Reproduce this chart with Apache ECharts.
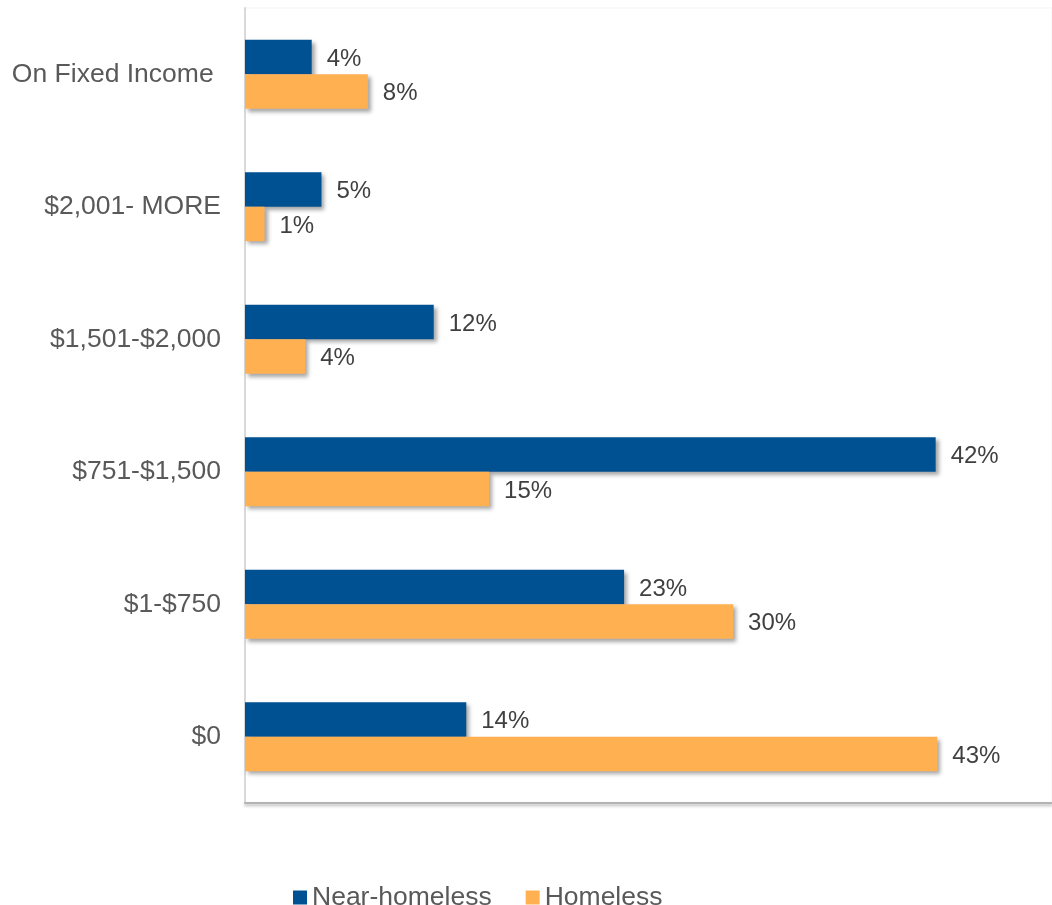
<!DOCTYPE html>
<html lang="en">
<head>
    <meta charset="UTF-8">
    <title>Income</title>
    <style>
        html, body { margin: 0; padding: 0; background: #fff; }
    </style>
</head>
<body>
<div id="main" style="width: 1052px; height: 905px;"></div>

<script src="https://cdn.jsdelivr.net/npm/echarts@6/dist/echarts.min.js"></script>
<script type="text/javascript">
    // categories, bottom to top (category axis starts at the bottom)
    var categories = ['$0', '$1-$750', '$751-$1,500', '$1,501-$2,000', '$2,001- MORE', 'On Fixed Income '];
    var seriesNames = ['Near-homeless', 'Homeless'];
    // percentages; labels show them rounded
    var nearHomeless = [13.6, 23.3, 42.45, 11.6, 4.7, 4.1];
    var homeless = [42.55, 30.0, 15.0, 3.7, 1.2, 7.55];

    var barShadow = {
        shadowBlur: 4,
        shadowOffsetX: 3,
        shadowOffsetY: 3,
        shadowColor: 'rgba(0,0,0,0.35)'
    };

    function pctLabel(p) {
        return Math.round(p.value) + '%';
    }

    var myChart = echarts.init(document.getElementById('main'));
    var option = {
        animation: false,
        textStyle: { fontFamily: '"Liberation Sans", Arial, sans-serif' },
        grid: {
            left: 245,
            top: 8,
            right: 0,
            height: 795,
            show: true,
            borderColor: '#f3f3f3',
            borderWidth: 1
        },
        legend: {
            data: seriesNames,
            left: 288,
            top: 879,
            icon: 'rect',
            itemWidth: 14,
            itemHeight: 14,
            itemGap: 34,
            textStyle: { fontSize: 26.5, color: '#595959' }
        },
        xAxis: {
            type: 'value',
            min: 0,
            max: 49.6,   // plot area runs off the right edge a little
            axisLabel: { show: false },
            axisTick: { show: false },
            splitLine: { show: false },
            axisLine: {
                show: true,
                lineStyle: {
                    color: '#b3b3b3',
                    width: 2,
                    shadowBlur: 3,
                    shadowOffsetY: 2,
                    shadowColor: 'rgba(0,0,0,0.3)'
                }
            }
        },
        yAxis: {
            type: 'category',
            data: categories,
            axisTick: { show: false },
            axisLine: { show: true, lineStyle: { color: '#d9d9d9', width: 2 } },
            axisLabel: { fontSize: 26.5, color: '#595959', margin: 24, padding: [5, 0, 0, 0] }
        },
        series: [
            {
                name: seriesNames[0],
                type: 'bar',
                data: nearHomeless,
                barGap: 0,
                barCategoryGap: '48%',
                itemStyle: Object.assign({ color: '#005192' }, barShadow),
                label: {
                    show: true,
                    position: 'right',
                    distance: 15,
                    offset: [0, 2],
                    fontSize: 24,
                    color: '#404040',
                    formatter: pctLabel
                }
            },
            {
                name: seriesNames[1],
                type: 'bar',
                data: homeless,
                barGap: 0,
                barCategoryGap: '48%',
                itemStyle: Object.assign({ color: '#ffb152' }, barShadow),
                label: {
                    show: true,
                    position: 'right',
                    distance: 15,
                    offset: [0, 2],
                    fontSize: 24,
                    color: '#404040',
                    formatter: pctLabel
                }
            }
        ]
    };
    myChart.setOption(option);
</script>

</body>
</html>
